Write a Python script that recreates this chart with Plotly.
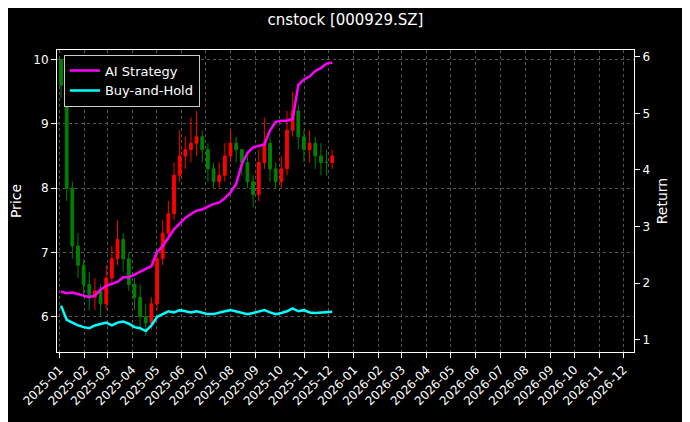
import plotly.graph_objects as go
import pandas as pd

dates = pd.date_range("2025-01-03", "2025-12-05", freq="7D").strftime("%Y-%m-%d").tolist()
close = [9.6,8.0,7.1,6.8,6.5,6.3,6.4,6.2,6.6,6.9,7.2,6.9,6.5,6.3,6.0,5.9,6.2,6.9,7.3,7.6,8.2,8.5,8.6,8.7,8.8,8.6,8.3,8.1,8.2,8.5,8.7,8.6,8.4,8.1,7.9,8.4,8.7,8.3,8.1,8.3,8.9,9.2,8.8,8.6,8.7,8.5,8.4,8.4,8.5]
open_ = [10.0,9.6,8.0,7.1,6.8,6.5,6.3,6.4,6.2,6.6,6.9,7.2,6.9,6.5,6.3,6.0,5.9,6.2,6.9,7.3,7.6,8.2,8.5,8.6,8.7,8.8,8.6,8.3,8.1,8.2,8.5,8.7,8.6,8.4,8.1,7.9,8.4,8.7,8.3,8.1,8.3,8.9,9.2,8.8,8.6,8.7,8.5,8.4,8.4]
high = [10.0,9.7,8.1,7.3,6.9,6.7,6.6,6.5,6.8,7.1,7.5,7.3,7.0,6.6,6.5,6.2,6.3,7.0,7.5,7.8,8.4,8.9,8.8,9.1,9.2,8.9,8.7,8.4,8.4,8.7,8.9,8.8,8.6,8.5,8.2,8.6,9.1,8.8,8.4,8.5,9.2,9.5,9.3,8.9,8.9,8.8,8.7,8.6,8.6]
low = [9.4,7.8,6.9,6.6,6.3,6.1,6.1,6.0,6.1,6.5,6.8,6.7,6.4,6.1,5.8,5.7,5.8,6.1,6.8,7.2,7.5,8.1,8.3,8.4,8.5,8.4,8.1,8.0,8.0,8.1,8.4,8.4,8.2,8.0,7.7,7.8,8.3,8.1,8.0,8.0,8.2,8.8,8.6,8.4,8.4,8.3,8.2,8.2,8.3]
ai_return = [1.85,1.82,1.83,1.8,1.78,1.75,1.78,1.88,1.95,1.98,2.02,2.1,2.1,2.15,2.2,2.25,2.3,2.55,2.65,2.8,2.95,3.05,3.15,3.22,3.28,3.3,3.35,3.4,3.42,3.5,3.6,3.75,4.1,4.3,4.4,4.42,4.45,4.7,4.85,4.87,4.87,4.9,5.5,5.6,5.65,5.75,5.8,5.88,5.9]
bh_return = [1.6,1.35,1.3,1.25,1.22,1.2,1.25,1.28,1.3,1.25,1.3,1.32,1.28,1.22,1.2,1.15,1.25,1.4,1.45,1.5,1.48,1.52,1.5,1.48,1.5,1.48,1.45,1.45,1.48,1.5,1.52,1.5,1.48,1.45,1.47,1.5,1.52,1.48,1.45,1.47,1.5,1.55,1.5,1.52,1.48,1.47,1.48,1.48,1.49]

tickvals = pd.date_range("2025-01-01", "2026-12-01", freq="MS").strftime("%Y-%m-%d").tolist()
ticktext = [d[:7] for d in tickvals]

fig = go.Figure()
fig.add_trace(go.Candlestick(x=dates, open=open_, high=high, low=low, close=close,
    increasing=dict(line=dict(color="red", width=1), fillcolor="red"),
    decreasing=dict(line=dict(color="green", width=1), fillcolor="green"),
    showlegend=False, whiskerwidth=0))
fig.add_trace(go.Scatter(x=dates, y=ai_return, yaxis="y2", name="AI Strategy", mode="lines",
    line=dict(color="#ff00ff", width=2.5)))
fig.add_trace(go.Scatter(x=dates, y=bh_return, yaxis="y2", name="Buy-and-Hold", mode="lines",
    line=dict(color="cyan", width=2.5)))

grid = dict(showgrid=True, gridcolor="#555", griddash="dot", gridwidth=0.6)
fig.update_layout(
    width=690, height=422, paper_bgcolor="black", plot_bgcolor="black",
    font=dict(family="DejaVu Sans", color="white", size=12),
    title=dict(text="cnstock [000929.SZ]", x=0.5, xref="paper", y=0.985, yanchor="top", xanchor="center", font=dict(size=15)),
    margin=dict(l=49, r=64, t=42, b=78),
    xaxis=dict(range=["2024-12-29", "2026-12-14"], tickvals=tickvals, ticktext=ticktext, tickangle=-45,
               automargin=False, rangeslider=dict(visible=False), showline=True, linecolor="white", mirror=True,
               ticks="outside", tickcolor="white", **grid),
    yaxis=dict(title=dict(text="Price", standoff=8), range=[5.45, 10.15], dtick=1, showline=True, linecolor="white",
               automargin=False, ticks="outside", tickcolor="white", zeroline=False, **grid),
    yaxis2=dict(title=dict(text="Return", standoff=8), overlaying="y", side="right", range=[0.78, 6.12], dtick=1,
                automargin=False, showgrid=False, showline=True, linecolor="white", ticks="outside", tickcolor="white", zeroline=False),
    legend=dict(x=0.012, y=0.985, xanchor="left", yanchor="top", bgcolor="black",
                bordercolor="#ccc", borderwidth=1, font=dict(size=13)),
)
fig.write_html("out.html")
